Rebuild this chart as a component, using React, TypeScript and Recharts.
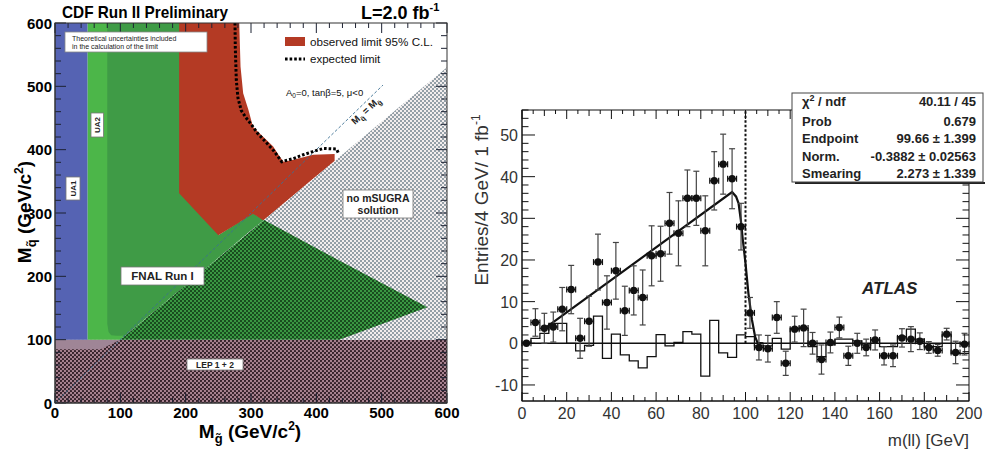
import React from 'react';
import {
  ComposedChart,
  Area,
  Line,
  Scatter,
  XAxis,
  YAxis,
  ReferenceLine,
  ErrorBar,
} from 'recharts';

const FONT = '"Liberation Sans", Arial, Helvetica, sans-serif';

/* ================= Left panel: CDF squark / gluino exclusion ================= */
const lepRegion = [
  { m: 0, band: [0, 100] },
  { m: 600, band: [0, 100] },
];
const lepEdgeRegion = [
  { m: 0, band: [85, 100] },
  { m: 70, band: [85, 100] },
  { m: 100, band: [100, 100] },
];
const ua1Region = [
  { m: 0, band: [100, 600] },
  { m: 50, band: [100, 600] },
];
const ua2Region = [
  { m: 50, band: [100, 600] },
  { m: 112, band: [100, 600] },
];
const fnalRegion = [
  { m: 80, band: [125, 600] },
  { m: 82, band: [112, 600] },
  { m: 86, band: [107, 600] },
  { m: 95, band: [106, 600] },
  { m: 107, band: [106, 600] },
  { m: 190, band: [177, 600] },
  { m: 250, band: [229, 600] },
  { m: 250, band: [229, 265] },
  { m: 303, band: [275, 300] },
  { m: 320, band: [289, 289] },
];
const observedRegion = [
  { m: 190, band: [331, 600] },
  { m: 250, band: [265, 600] },
  { m: 282, band: [285, 600] },
  { m: 284, band: [287, 531] },
  { m: 288, band: [289, 489] },
  { m: 296, band: [294, 463] },
  { m: 303, band: [299, 436] },
  { m: 319, band: [288, 420] },
  { m: 334, band: [301, 405] },
  { m: 344, band: [310, 389] },
  { m: 350, band: [315, 381] },
  { m: 365, band: [328, 384] },
  { m: 395, band: [354, 392] },
  { m: 428, band: [382, 393] },
];
const noSugraRegion = [
  { m: 100, band: [100, 100] },
  { m: 600, band: [100, 530] },
];
const fnalHatchRegion = [
  { m: 100, band: [100, 100] },
  { m: 320, band: [100, 289] },
  { m: 435, band: [100, 225] },
  { m: 570, band: [151, 151] },
];
const expectedLimit = [
  { m: 275.5, v: 600 },
  { m: 276, v: 560 },
  { m: 277.5, v: 510 },
  { m: 280, v: 482 },
  { m: 285, v: 462 },
  { m: 292, v: 451 },
  { m: 301, v: 439 },
  { m: 310, v: 426 },
  { m: 320, v: 415 },
  { m: 335, v: 398 },
  { m: 347, v: 381 },
  { m: 365, v: 386 },
  { m: 380, v: 392 },
  { m: 395, v: 397 },
  { m: 411, v: 402 },
  { m: 431, v: 401 },
  { m: 434, v: 394 },
];
const equalMassLine = [
  { m: 0, v: 0 },
  { m: 502, v: 502 },
];
const cdfTicks = Array.from({ length: 31 }, (_, i) => i * 20);

/* ================= Right panel: ATLAS m(ll) ================= */
const binCenters = [
  2, 6, 10, 14, 18, 22, 26, 30, 34, 38, 42, 46, 50, 54, 58, 62, 66, 70, 74, 78, 82, 86, 90, 94, 98,
  102, 106, 110, 114, 118, 122, 126, 130, 134, 138, 142, 146, 150, 154, 158, 162, 166, 170, 174,
  178, 182, 186, 190, 194, 198,
];
const entries = [
  0, 5, 3.6, 3.9, 8.2, 12.9, 1.2, 5.3, 19.5, 9.8, 17.4, 7.8, 12.7, 11, 21, 21.5, 28.8, 26.4, 34.8,
  34.8, 27, 39, 43, 39.5, 28, 7.3, -1, -1.3, 6.2, -4.8, 3.4, 3.7, 0, -3.9, 0.2, 3.8, -3, 0, -1, 0.8,
  -3, -3, 1.3, 1, 0.5, -1, -1.7, 2.2, -2.2, -0.2,
];
const entryErrors = [
  0, 3.3, 3.6, 3.6, 5.2, 5.8, 4.8, 6, 6.7, 6.4, 6.8, 5.9, 5.9, 6.6, 7.2, 6.6, 7.4, 7.8, 6.8, 6.5, 8.4,
  7, 7.2, 7.2, 5.6, 3.7, 3, 3.2, 3.8, 2.9, 3.1, 4.5, 2.6, 3.5, 2.5, 2.5, 2.3, 2.4, 2, 2.4, 2.2, 2.6,
  2.2, 3, 2, 1.4, 1.4, 1.4, 2.7, 2.6,
];
const binHalfWidth = 2;
const histEdges = [
  0, 4, 8, 12, 16, 20, 24, 28, 32, 36, 40, 44, 48, 52, 56, 60, 64, 68, 72, 76, 80, 84, 88, 92, 96,
  100, 104, 108, 112, 116, 120, 124, 128, 132, 136, 140, 144, 148, 152, 156, 160, 164, 168, 172,
  176, 180, 184, 188, 192, 196, 200,
];
const histValues = [
  0, 1.2, 2.4, 4.8, 4.8, 0, -1.8, -0.5, 6.5, -3.6, 2.2, -2.8, -4.2, -5.9, -3.2, 2.1, -0.6, 0.2, 2.8,
  2.2, -7.9, 5.5, -2.3, -3.4, 2, 1.6, -0.6, -0.6, 1.2, -1.4, 3.6, 3.6, -0.8, -3.2, -0.4, 1, 1, 0.6,
  -0.4, 0.8, -0.8, -0.8, 1.6, 3.4, 1, -0.8, -0.8, 2, -2.4, -2.4, -2.4,
];
const fitMass = [10, 94, 95.8, 96.9, 97.9, 98.8, 100, 101.3, 102.9, 104.3, 105.4, 108];
const fitValue = [3.5, 36.3, 35.2, 33.6, 29.6, 24.8, 19.2, 12, 5.6, 1.6, 0.1, 0];
const atlasXTicks = Array.from({ length: 41 }, (_, i) => i * 5);
const atlasYTicks = Array.from({ length: 35 }, (_, i) => -12 + i * 2);
const endpointMass = 100;

const pointRows = binCenters.map((m, i) => ({ m, v: entries[i], ey: entryErrors[i], ex: binHalfWidth }));
const histRows = histEdges.map((m, i) => ({ m, h: histValues[i] }));
const fitRows = fitMass.map((m, i) => ({ m, f: fitValue[i] }));

/* ================= layout ================= */
const L = { w: 460, h: 454, left: 55, right: 447, top: 23, bottom: 403 };
const R = { x0: 460, w: 527, h: 454, left: 62, right: 509, top: 110, bottom: 401 };

function CdfXTick(p: any) {
  const { x, y, payload } = p;
  const v = payload.value;
  const major = v % 100 === 0;
  const len = major ? 10 : 5;
  return (
    <g>
      <line x1={x} x2={x} y1={y} y2={y - len} stroke="#1d2233" strokeWidth={1} />
      <line x1={x} x2={x} y1={L.top} y2={L.top + len} stroke="#1d2233" strokeWidth={1} />
      {major && (
        <text x={x} y={y + 15} textAnchor="middle" fontFamily={FONT} fontWeight="bold" fontSize={15} fill="#000">
          {v}
        </text>
      )}
    </g>
  );
}
function CdfYTick(p: any) {
  const { x, y, payload } = p;
  const v = payload.value;
  const major = v % 100 === 0;
  const len = major ? 11 : 6;
  const xr = x + (L.right - L.left);
  return (
    <g>
      <line x1={x} x2={x + len} y1={y} y2={y} stroke="#1d2233" strokeWidth={1} />
      <line x1={xr} x2={xr - len} y1={y} y2={y} stroke="#1d2233" strokeWidth={1} />
      {major && (
        <text x={x - 3} y={y + 5.5} textAnchor="end" fontFamily={FONT} fontWeight="bold" fontSize={15} fill="#000">
          {v}
        </text>
      )}
    </g>
  );
}
function AtlasXTick(p: any) {
  const { x, y, payload } = p;
  const v = payload.value;
  const major = v % 20 === 0;
  const len = major ? 9 : v % 10 === 0 ? 6 : 4;
  return (
    <g>
      <line x1={x} x2={x} y1={y} y2={y - len} stroke="#111" strokeWidth={1} />
      <line x1={x} x2={x} y1={R.top} y2={R.top + len} stroke="#111" strokeWidth={1} />
      {major && (
        <text x={x} y={y + 18} textAnchor="middle" fontFamily={FONT} fontSize={16} fill="#333">
          {v}
        </text>
      )}
    </g>
  );
}
function AtlasYTick(p: any) {
  const { x, y, payload } = p;
  const v = payload.value;
  const major = v % 10 === 0;
  const len = major ? 13 : 6.5;
  const xr = x + (R.right - R.left);
  return (
    <g>
      <line x1={x} x2={x + len} y1={y} y2={y} stroke="#111" strokeWidth={1} />
      <line x1={xr} x2={xr - len} y1={y} y2={y} stroke="#111" strokeWidth={1} />
      {major && (
        <text x={x - 4} y={y + 6} textAnchor="end" fontFamily={FONT} fontSize={16} fill="#333">
          {v}
        </text>
      )}
    </g>
  );
}

const dot = (p: any) => <circle cx={p.cx} cy={p.cy} r={3.7} fill="#111" />;

function LabelBox({ x, y, w, h, lines, size, rotate }: any) {
  const cx = x + w / 2;
  const cy = y + h / 2;
  return (
    <g>
      <rect x={x} y={y} width={w} height={h} fill="#fff" stroke="#777" strokeWidth={0.8} />
      {rotate ? (
        <text
          transform={`translate(${cx + size * 0.36},${cy}) rotate(-90)`}
          textAnchor="middle"
          fontFamily={FONT}
          fontWeight="bold"
          fontSize={size}
          fill="#222"
        >
          {lines[0]}
        </text>
      ) : (
        lines.map((t: string, i: number) => (
          <text
            key={i}
            x={cx}
            y={cy + size * 0.36 + (i - (lines.length - 1) / 2) * size * 1.15}
            textAnchor="middle"
            fontFamily={FONT}
            fontWeight="bold"
            fontSize={size}
            fill="#222"
          >
            {t}
          </text>
        ))
      )}
    </g>
  );
}

export default function App() {
  const band = (data: any[], fill: string) => (
    <Area
      data={data}
      dataKey="band"
      type="linear"
      stroke="none"
      fill={fill}
      fillOpacity={1}
      isAnimationActive={false}
      dot={false}
      activeDot={false}
    />
  );
  return (
    <div style={{ position: 'absolute', left: 0, top: 0, width: 987, height: 454, background: '#fff', overflow: 'hidden' }}>
      <svg width={0} height={0} style={{ position: 'absolute' }}>
        <defs>
          <pattern id="lepHatch" width={4} height={4} patternUnits="userSpaceOnUse">
            <rect width={4} height={4} fill="#a88290" />
            <circle cx={1} cy={1} r={1.1} fill="#2c1a22" />
            <circle cx={3} cy={3} r={1.1} fill="#2c1a22" />
          </pattern>
          <pattern id="grayHatch" width={4} height={4} patternUnits="userSpaceOnUse">
            <rect width={4} height={4} fill="#f3eeee" />
            <circle cx={1} cy={1} r={1} fill="#74858f" />
            <circle cx={3} cy={3} r={1} fill="#74858f" />
          </pattern>
          <pattern id="greenHatch" width={4} height={4} patternUnits="userSpaceOnUse">
            <rect width={4} height={4} fill="#3a9842" />
            <circle cx={1} cy={1} r={1} fill="#0e3313" />
            <circle cx={3} cy={3} r={1} fill="#0e3313" />
          </pattern>
        </defs>
      </svg>

      {/* ---------- Left chart ---------- */}
      <div style={{ position: 'absolute', left: 0, top: 0 }}>
        <ComposedChart width={L.w} height={L.h} margin={{ top: L.top, right: L.w - L.right, bottom: 21, left: 0 }}>
          {band(lepRegion, 'url(#lepHatch)')}
          {band(lepEdgeRegion, '#9f8596')}
          {band(ua1Region, '#5563b3')}
          {band(ua2Region, '#4cb649')}
          {band(fnalRegion, '#3f9b46')}
          {band(observedRegion, '#b43a24')}
          {band(noSugraRegion, 'url(#grayHatch)')}
          {band(fnalHatchRegion, 'url(#greenHatch)')}
          <Line
            data={equalMassLine}
            dataKey="v"
            type="linear"
            stroke="#3b6f92"
            strokeWidth={0.9}
            strokeDasharray="3 2"
            dot={false}
            activeDot={false}
            isAnimationActive={false}
          />
          <Line
            data={expectedLimit}
            dataKey="v"
            type="linear"
            stroke="#000"
            strokeWidth={3}
            strokeDasharray="2.6 2"
            dot={false}
            activeDot={false}
            isAnimationActive={false}
          />
          <XAxis
            type="number"
            dataKey="m"
            domain={[0, 600]}
            allowDataOverflow
            ticks={cdfTicks}
            interval={0}
            tickSize={0}
            tickMargin={0}
            tickLine={false}
            axisLine={{ stroke: '#333' }}
            height={30}
            tick={(p: any) => <CdfXTick {...p} />}
          />
          <YAxis
            type="number"
            domain={[0, 600]}
            allowDataOverflow
            ticks={cdfTicks}
            interval={0}
            tickSize={0}
            tickMargin={0}
            tickLine={false}
            axisLine={{ stroke: '#333' }}
            width={L.left}
            tick={(p: any) => <CdfYTick {...p} />}
          />
        </ComposedChart>
      </div>

      {/* ---------- Right chart ---------- */}
      <div style={{ position: 'absolute', left: R.x0, top: 0 }}>
        <ComposedChart width={R.w} height={R.h} margin={{ top: R.top, right: R.w - R.right, bottom: 23, left: 0 }}>
          <ReferenceLine y={0} stroke="#111" strokeWidth={1.4} />
          <ReferenceLine
            segment={[
              { x: endpointMass, y: 0 },
              { x: endpointMass, y: 56 },
            ]}
            stroke="#111"
            strokeWidth={2}
            strokeDasharray="2.5 2"
          />
          <Line
            data={histRows}
            dataKey="h"
            type="stepAfter"
            stroke="#111"
            strokeWidth={1.3}
            dot={false}
            activeDot={false}
            isAnimationActive={false}
          />
          <Line
            data={fitRows}
            dataKey="f"
            type="linear"
            stroke="#111"
            strokeWidth={2.2}
            dot={false}
            activeDot={false}
            isAnimationActive={false}
          />
          <Scatter data={pointRows} dataKey="v" shape={dot} isAnimationActive={false}>
            <ErrorBar dataKey="ey" direction="y" width={3} stroke="#444" strokeWidth={1.2} />
            <ErrorBar dataKey="ex" direction="x" width={3} stroke="#111" strokeWidth={1.2} />
          </Scatter>
          <XAxis
            type="number"
            dataKey="m"
            domain={[0, 200]}
            allowDataOverflow
            ticks={atlasXTicks}
            interval={0}
            tickSize={0}
            tickMargin={0}
            tickLine={false}
            axisLine={{ stroke: '#111' }}
            height={30}
            tick={(p: any) => <AtlasXTick {...p} />}
          />
          <YAxis
            type="number"
            domain={[-13.85, 56]}
            allowDataOverflow
            ticks={atlasYTicks}
            interval={0}
            tickSize={0}
            tickMargin={0}
            tickLine={false}
            axisLine={{ stroke: '#111' }}
            width={R.left}
            tick={(p: any) => <AtlasYTick {...p} />}
          />
        </ComposedChart>
      </div>

      {/* ---------- annotations ---------- */}
      <svg width={987} height={454} style={{ position: 'absolute', left: 0, top: 0, pointerEvents: 'none' }}>
        {/* left frame & titles */}
        <rect x={L.left} y={L.top} width={L.right - L.left} height={L.bottom - L.top} fill="none" stroke="#333" strokeWidth={1} />
        <text x={62} y={18} fontFamily={FONT} fontWeight="bold" fontSize={17} textLength={166} lengthAdjust="spacingAndGlyphs">
          CDF Run II Preliminary
        </text>
        <text x={361} y={18.5} fontFamily={FONT} fontWeight="bold" fontSize={18}>
          L=2.0 fb<tspan fontSize={11} dy={-8}>-1</tspan>
        </text>
        <text x={250} y={438} textAnchor="middle" fontFamily={FONT} fontWeight="bold" fontSize={19}>
          M<tspan fontSize={13} dy={5}>g̃</tspan>
          <tspan dy={-5}> (GeV/c</tspan>
          <tspan fontSize={12} dy={-8}>2</tspan>
          <tspan dy={8}>)</tspan>
        </text>
        <text transform="translate(31,212) rotate(-90)" textAnchor="middle" fontFamily={FONT} fontWeight="bold" fontSize={19}>
          M<tspan fontSize={13} dy={5}>q̃</tspan>
          <tspan dy={-5}> (GeV/c</tspan>
          <tspan fontSize={12} dy={-8}>2</tspan>
          <tspan dy={8}>)</tspan>
        </text>

        <rect x={65} y={32} width={142} height={20} fill="#fff" stroke="#888" strokeWidth={0.8} />
        <text x={72} y={40.5} fontFamily={FONT} fontSize={7} fill="#222">
          Theoretical uncertainties included
        </text>
        <text x={72} y={49} fontFamily={FONT} fontSize={7} fill="#222">
          in the calculation of the limit
        </text>
        <LabelBox x={66} y={177} w={14} h={23} lines={['UA1']} size={8} rotate />
        <LabelBox x={91} y={113} w={12.5} h={24} lines={['UA2']} size={8} rotate />
        <LabelBox x={121} y={267} w={83} h={18} lines={['FNAL Run I']} size={11.5} />
        <LabelBox x={343} y={190} w={70} h={28} lines={['no mSUGRA', 'solution']} size={10.5} />
        <LabelBox x={187} y={359} w={56} h={11} lines={['LEP 1 + 2']} size={8.5} />

        <rect x={285} y={37} width={20} height={9} fill="#b43a24" />
        <text x={310} y={46} fontFamily={FONT} fontSize={11.5} fill="#111" textLength={123} lengthAdjust="spacingAndGlyphs">
          observed limit 95% C.L.
        </text>
        <line x1={285} x2={305} y1={59} y2={59} stroke="#000" strokeWidth={3} strokeDasharray="2.6 2" />
        <text x={310} y={63} fontFamily={FONT} fontSize={11.5} fill="#111">
          expected limit
        </text>
        <text x={286} y={96} fontFamily={FONT} fontSize={9.5} fill="#111">
          A<tspan fontSize={6.5} dy={2}>0</tspan>
          <tspan dy={-2}>=0, tanβ=5, μ&lt;0</tspan>
        </text>
        <text transform="translate(368,113) rotate(-43)" textAnchor="middle" fontFamily={FONT} fontWeight="bold" fontSize={9.5} fill="#222">
          M<tspan fontSize={7} dy={3}>q̃</tspan>
          <tspan dy={-3}> = M</tspan>
          <tspan fontSize={7} dy={3}>g̃</tspan>
        </text>

        {/* right frame & labels */}
        <rect x={R.x0 + R.left} y={R.top} width={R.right - R.left} height={R.bottom - R.top} fill="none" stroke="#111" strokeWidth={1} />
        <text transform="translate(487.5,200) rotate(-90)" textAnchor="middle" fontFamily={FONT} fontSize={19} fill="#333">
          Entries/4 GeV/ 1 fb<tspan fontSize={12} dy={-8}>-1</tspan>
        </text>
        <text x={969} y={446} textAnchor="end" fontFamily={FONT} fontSize={17} fill="#333">
          m(ll) [GeV]
        </text>
        <text x={862} y={294} fontFamily={FONT} fontWeight="bold" fontStyle="italic" fontSize={17} fill="#222">
          ATLAS
        </text>

        <line x1={795} x2={985} y1={183} y2={183} stroke="#222" strokeWidth={2.2} />
        <rect x={792} y={93} width={191} height={89} fill="#fff" stroke="#444" strokeWidth={1} />
        <g fontFamily={FONT} fontWeight="bold" fontSize={13} fill="#222">
          <text x={802} y={106}>
            χ<tspan fontSize={9} dy={-5}>2</tspan>
            <tspan dy={5}> / ndf</tspan>
          </text>
          <text x={976} y={106} textAnchor="end">40.11 / 45</text>
          <text x={802} y={125.5}>Prob</text>
          <text x={976} y={125.5} textAnchor="end">0.679</text>
          <text x={802} y={143}>Endpoint</text>
          <text x={976} y={143} textAnchor="end">99.66 ± 1.399</text>
          <text x={802} y={161}>Norm.</text>
          <text x={976} y={161} textAnchor="end">-0.3882 ± 0.02563</text>
          <text x={802} y={178}>Smearing</text>
          <text x={976} y={178} textAnchor="end">2.273 ± 1.339</text>
        </g>
      </svg>
    </div>
  );
}
